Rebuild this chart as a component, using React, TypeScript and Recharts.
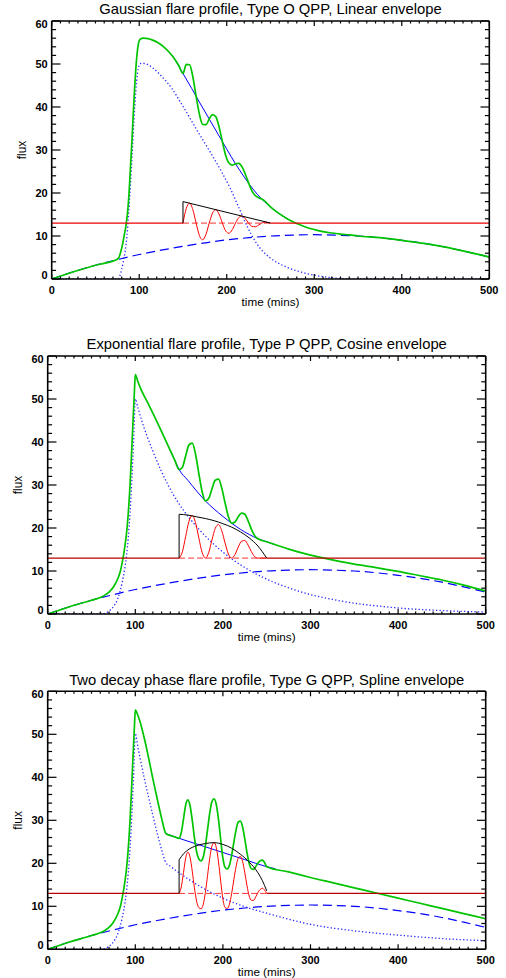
import React from "react";
import { LineChart, Line, XAxis, YAxis } from "recharts";

type Pt = [number, number];

// ---- shared ----
const background: Pt[] = [
  [0, 0], [25, 1.7], [50, 3.2], [75, 4.5], [100, 5.7], [125, 6.7], [150, 7.6], [175, 8.4],
  [200, 9.1], [225, 9.6], [250, 10.0], [275, 10.2], [300, 10.3], [325, 10.2], [350, 10.0],
  [375, 9.6], [400, 9.0], [425, 8.3], [450, 7.4], [475, 6.3], [500, 5.1],
];
const flatBefore: Pt[] = [[0, 13], [150, 13]];
const flatAfter: Pt[] = [[250, 13], [500, 13]];
const qppMean: Pt[] = [[150, 13], [250, 13]];

const X_MAJOR = [0, 100, 200, 300, 400, 500];
const Y_MAJOR = [0, 10, 20, 30, 40, 50, 60];
const X_MINOR_STEP = 10;
const Y_MINOR_STEP = 2;

// ---- panel 1: gaussian / type O / linear ----
const gaussFlare: Pt[] = [
  [0, 0], [76, 0], [78, 0.8], [80, 2.3], [82, 4.2], [84, 6.5], [86, 10], [88, 15.5], [90, 22],
  [92, 29.5], [94, 37], [96, 43.5], [98, 47.8], [100, 49.7], [103, 50.2], [108, 50], [116, 49.0],
  [127.6, 46.7], [137, 44.4], [146.6, 41.3], [156, 38.1], [165.7, 34.7], [175, 31.6], [185, 28.2],
  [195, 24.6], [204, 21.1], [213, 17.0], [223, 12.4], [234, 8.3], [249, 5.0], [268, 2.8],
  [285, 1.6], [300, 0.9], [320, 0.3], [340, 0.05], [360, 0], [500, 0],
];
const gaussDecay: Pt[] = [
  [130, 53.6], [140, 51.3], [150, 47.8], [160, 44.3], [170, 40.7], [180, 37.2], [190, 33.7],
  [200, 30.2], [210, 26.8], [220, 23.7], [230, 20.9], [240, 18.6], [250, 16.75], [260, 15.2], [270, 13.9],
];
const gaussTotal: Pt[] = [
  [0, 0], [25, 1.7], [50, 3.2], [75, 4.6], [77, 5.1], [79, 6.4], [81, 8.1], [83, 10.3], [85, 12.6],
  [86, 14.2], [87, 16.2], [88, 18.8], [89, 22.2], [90, 26], [91, 29.6], [92, 33.5], [93, 37.6],
  [94, 41.6], [95, 45.3], [96, 48.5], [97, 51.2], [98, 53.2], [99, 54.6], [100, 55.4], [102, 55.9],
  [105, 56.0], [110, 55.9], [116, 55.5], [122, 54.9], [128, 54.0], [134, 52.8], [140, 51.3],
  [145, 49.7], [150, 47.8], [153.75, 49.9], [157.5, 49.83], [161.25, 47.04], [165, 42.5],
  [168.75, 38.33], [172.5, 35.93], [176.25, 35.89], [180, 37.2], [183.75, 38.24], [187.5, 37.73],
  [191.25, 35.38], [195, 31.95], [198.75, 28.79], [202.5, 26.98], [206.25, 26.5], [210, 26.8],
  [213.75, 26.88], [217.5, 26.08], [221.25, 24.37], [225, 22.3], [228.75, 20.5], [232.5, 19.43],
  [236.25, 18.91], [240, 18.6], [243.75, 18.07], [247.5, 17.28], [250, 16.75], [260, 15.2],
  [270, 13.9], [280, 12.9], [290, 12.1], [300, 11.5], [310, 11.0], [320, 10.7], [330, 10.45],
  [340, 10.25], [350, 10.0], [375, 9.6], [400, 9.0], [425, 8.3], [450, 7.4], [475, 6.3], [500, 5.1],
];
const gaussQpp: Pt[] = [
  [150, 13], [153.75, 16.4], [157.5, 17.63], [161.25, 16.14], [165, 13], [168.75, 10.13],
  [172.5, 9.13], [176.25, 10.39], [180, 13], [183.75, 15.34], [187.5, 16.13], [191.25, 15.08],
  [195, 13], [198.75, 11.19], [202.5, 10.63], [206.25, 11.45], [210, 13], [213.75, 14.28],
  [217.5, 14.63], [221.25, 14.02], [225, 13], [228.75, 12.25], [232.5, 12.13], [236.25, 12.51],
  [240, 13], [243.75, 13.22], [247.5, 13.13], [250, 13],
];
const gaussEnvelope: Pt[] = [[150, 13], [150, 18], [250, 13]];

// ---- panel 2: exponential / type P / cosine ----
const expFlare: Pt[] = [
  [0, 0], [62, 0], [66, 0.2], [70, 0.7], [75, 1.7], [80, 3.6], [85, 7.3], [88, 10.6], [90, 13.6],
  [92, 17.8], [94, 23.5], [96, 31], [98, 40], [100, 50], [103, 48.0], [107, 45.2], [113, 41.6],
  [120, 37.9], [130, 33.1], [143, 27.9], [150, 25.6], [175, 19.2], [200, 14.4], [225, 10.8],
  [250, 8.1], [275, 6.1], [300, 4.5], [325, 3.4], [350, 2.5], [375, 1.9], [400, 1.4], [450, 0.8], [500, 0.45],
];
const expDecay: Pt[] = [
  [140, 38.0], [145, 35.8], [150, 33.6], [160, 31.1], [170, 28.6], [180, 26.3], [190, 24.4],
  [200, 22.7], [210, 21.1], [220, 19.7], [230, 18.5], [240, 17.5], [250, 16.8], [260, 16.1],
];
const expTotal: Pt[] = [
  [0, 0], [25, 1.7], [50, 3.2], [62, 4.0], [66, 4.5], [70, 5.1], [75, 6.3], [80, 8.2], [83, 10.0],
  [85, 11.9], [87, 14.2], [88, 15.6], [90, 18.8], [92, 23.5], [94, 30], [96, 38.5], [98, 47.5],
  [99, 51.8], [100, 55.7], [103, 54.0], [107, 52.0], [113, 49.6], [120, 46.7], [128, 43.3],
  [135, 40.2], [140, 38.0], [145, 35.8], [150, 33.6], [153.75, 34.14], [157.5, 36.78],
  [161.25, 39.33], [165, 39.75], [168.75, 37.15], [172.5, 32.7], [176.25, 28.5], [180, 26.3],
  [183.75, 26.85], [187.5, 29.08], [191.25, 31.11], [195, 31.35], [198.75, 29.23], [202.5, 25.8],
  [206.25, 22.66], [210, 21.1], [213.75, 21.4], [217.5, 22.6], [221.25, 23.48], [225, 23.2],
  [228.75, 21.68], [232.5, 19.75], [236.25, 18.23], [240, 17.5], [250, 16.8], [275, 15.1],
  [300, 13.7], [325, 12.6], [350, 11.6], [375, 10.8], [400, 9.9], [425, 8.9], [450, 7.9],
  [475, 6.7], [500, 5.3],
];
const expQpp: Pt[] = [
  [150, 13], [153.75, 14.48], [157.5, 18.05], [161.25, 21.54], [165, 22.9], [168.75, 21.24],
  [172.5, 17.7], [176.25, 14.34], [180, 13], [183.75, 14.26], [187.5, 17.2], [191.25, 19.92],
  [195, 20.8], [198.75, 19.32], [202.5, 16.5], [206.25, 13.96], [210, 13], [213.75, 13.82],
  [217.5, 15.55], [221.25, 16.93], [225, 17.1], [228.75, 16.03], [232.5, 14.5], [236.25, 13.35],
  [240, 13], [250, 13],
];
const expEnvelope: Pt[] = [
  [150, 13], [150, 23.2], [160, 23.0], [170, 22.6], [180, 22.2], [190, 21.7], [200, 21.0],
  [210, 20.2], [220, 19.1], [230, 17.7], [240, 15.8], [250, 13.0],
];

// ---- panel 3: two decay phase / type G / spline ----
const twoFlare: Pt[] = [
  [0, 0], [62, 0], [66, 0.2], [70, 0.7], [75, 1.7], [80, 3.6], [85, 7.3], [88, 10.6], [90, 13.6],
  [92, 17.8], [94, 23.5], [96, 31], [98, 40], [100, 50.2], [103, 47.0], [106, 43.9], [110, 40.0],
  [115, 35.5], [120, 31.2], [125, 27.0], [130, 23.2], [135, 20.1], [140, 19.3], [150, 17.8],
  [175, 14.5], [200, 11.9], [225, 9.9], [250, 8.4], [275, 7.0], [300, 5.8], [350, 4.3],
  [400, 3.3], [450, 2.5], [500, 2.0],
];
const twoDecay: Pt[] = [
  [135, 26.9], [150, 25.81], [175, 24.16], [200, 22.51], [225, 20.86], [250, 19.21], [260, 18.73],
];
const twoTotal: Pt[] = [
  [0, 0], [25, 1.7], [50, 3.2], [62, 4.0], [66, 4.5], [70, 5.1], [75, 6.3], [80, 8.2], [83, 10.0],
  [85, 11.9], [87, 14.2], [88, 15.6], [90, 18.8], [92, 23.5], [94, 30], [96, 38.5], [98, 47.5],
  [99, 51.8], [100, 55.7], [102, 54.9], [105, 53.2], [110, 49.3], [115, 44.7], [120, 39.7],
  [125, 35.0], [130, 30.5], [135, 26.9], [140, 26.47], [145, 26.14], [150, 25.81], [152.5, 27.15],
  [155, 30.28], [157.5, 33.52], [160, 34.75], [162.5, 33.39], [165, 30.02], [167.5, 25.96],
  [170, 22.69], [172.5, 21.03], [175, 20.56], [177.5, 21.4], [180, 24.03], [182.5, 27.87],
  [185, 31.7], [187.5, 34.34], [190, 34.97], [192.5, 33.61], [195, 30.14], [197.5, 25.48],
  [200, 21.21], [202.5, 19.05], [205, 18.68], [207.5, 19.52], [210, 21.85], [212.5, 24.89],
  [215, 27.72], [217.5, 29.56], [220, 29.79], [222.5, 28.43], [225, 25.66], [227.5, 22.5],
  [230, 19.93], [232.5, 18.77], [235, 18.6], [237.5, 19.24], [240, 20.07], [242.5, 20.61],
  [245, 20.74], [247.5, 20.18], [250, 19.21], [275, 18.0], [300, 16.7], [325, 15.5], [350, 14.3],
  [375, 13.1], [400, 11.9], [425, 10.7], [450, 9.5], [475, 8.3], [500, 7.1],
];
const twoQpp: Pt[] = [
  [150, 13], [152.5, 14.5], [155, 17.8], [157.5, 21.2], [160, 22.6], [162.5, 21.4], [165, 18.2],
  [167.5, 14.3], [170, 11.2], [172.5, 9.7], [175, 9.4], [177.5, 10.4], [180, 13.2], [182.5, 17.2],
  [185, 21.2], [187.5, 24.0], [190, 24.8], [192.5, 23.6], [195, 20.3], [197.5, 15.8], [200, 11.7],
  [202.5, 9.7], [205, 9.5], [207.5, 10.5], [210, 13.0], [212.5, 16.2], [215, 19.2], [217.5, 21.2],
  [220, 21.6], [222.5, 20.4], [225, 17.8], [227.5, 14.8], [230, 12.4], [232.5, 11.4], [235, 11.4],
  [237.5, 12.2], [240, 13.2], [242.5, 13.9], [245, 14.2], [247.5, 13.8], [250, 13.0],
];
const twoEnvelope: Pt[] = [
  [150, 13], [150, 20.8], [155, 22.2], [160, 23.1], [170, 24.1], [180, 24.6], [190, 24.8],
  [200, 24.4], [210, 23.5], [220, 22.1], [230, 20.3], [240, 17.8], [245, 16.0], [250, 13.6],
];

const rows = (pts: Pt[]) => pts.map(([t, v]) => ({ t, v }));
const steps = (max: number, step: number) => {
  const out: number[] = [];
  for (let v = 0; v <= max; v += step) out.push(v);
  return out;
};
const xTicks = steps(500, X_MINOR_STEP);
const yTicks = steps(60, Y_MINOR_STEP);

const FONT = "'Liberation Sans', Arial, Helvetica, sans-serif";

function Tick(props: any) {
  const { x, y, payload, side } = props;
  const v = payload.value;
  if (side === "bottom" || side === "top") {
    const major = X_MAJOR.includes(v);
    const len = major ? 5 : 2.5;
    const dir = side === "bottom" ? -1 : 1;
    return (
      <g>
        <line x1={x} x2={x} y1={y} y2={y + dir * len} stroke="#000" strokeWidth={1.2} />
        {side === "bottom" && major && (
          <text x={x} y={y + 15} textAnchor="middle" fontSize={11} fontWeight="bold" fontFamily={FONT} fill="#000">
            {v}
          </text>
        )}
      </g>
    );
  }
  const major = Y_MAJOR.includes(v);
  const len = major ? 8.8 : 4.4;
  const dir = side === "left" ? 1 : -1;
  const dy = v === 0 ? -4 : v === 60 ? 3 : 0;
  return (
    <g>
      <line x1={x} x2={x + dir * len} y1={y} y2={y} stroke="#000" strokeWidth={1.2} />
      {side === "left" && major && (
        <text x={x - 4} y={y + 4 + dy} textAnchor="end" fontSize={11} fontWeight="bold" fontFamily={FONT} fill="#000">
          {v}
        </text>
      )}
    </g>
  );
}

type Panel = {
  title: string;
  top: number;
  plotTop: number;
  plotBottom: number;
  plotLeft: number;
  plotRight: number;
  flare: Pt[];
  decay: Pt[];
  total: Pt[];
  qpp: Pt[];
  envelope: Pt[];
  flatColor: string;
  envCurve: "linear" | "monotone";
};

const panels: Panel[] = [
  {
    title: "Gaussian flare profile, Type O QPP, Linear envelope",
    top: 0, plotTop: 21, plotBottom: 279, plotLeft: 51.7, plotRight: 489.3,
    flare: gaussFlare, decay: gaussDecay, total: gaussTotal, qpp: gaussQpp, envelope: gaussEnvelope,
    flatColor: "#ee0000", envCurve: "linear",
  },
  {
    title: "Exponential flare profile, Type P QPP, Cosine envelope",
    top: 320, plotTop: 356, plotBottom: 614, plotLeft: 47.7, plotRight: 485.7,
    flare: expFlare, decay: expDecay, total: expTotal, qpp: expQpp, envelope: expEnvelope,
    flatColor: "#b80000", envCurve: "monotone",
  },
  {
    title: "Two decay phase flare profile, Type G QPP, Spline envelope",
    top: 645, plotTop: 691.3, plotBottom: 949.3, plotLeft: 47.7, plotRight: 485.7,
    flare: twoFlare, decay: twoDecay, total: twoTotal, qpp: twoQpp, envelope: twoEnvelope,
    flatColor: "#b80000", envCurve: "monotone",
  },
];

const common = { xAxisId: "b", yAxisId: "l", dataKey: "v", dot: false, isAnimationActive: false, activeDot: false } as const;

function FlarePanel({ p }: { p: Panel }) {
  const height = p.plotBottom - p.top + 30;
  const axisLine = { stroke: "#000", strokeWidth: 1.6 };
  return (
    <div style={{ position: "absolute", left: 0, top: p.top, width: 506, height }}>
      <LineChart
        width={506}
        height={height}
        margin={{ top: p.plotTop - p.top - 1, right: 506 - p.plotRight - 1, bottom: 0, left: 0 }}
      >
        <XAxis xAxisId="b" type="number" dataKey="t" domain={[0, 500]} allowDataOverflow ticks={xTicks}
          interval={0} tickSize={0} tickMargin={0} tickLine={false} axisLine={axisLine} height={30}
          tick={(t: any) => <Tick {...t} side="bottom" />} />
        <XAxis xAxisId="top" orientation="top" type="number" dataKey="t" domain={[0, 500]} allowDataOverflow
          ticks={xTicks} interval={0} tickSize={0} tickMargin={0} tickLine={false} axisLine={axisLine} height={1}
          tick={(t: any) => <Tick {...t} side="top" />} />
        <YAxis yAxisId="l" type="number" domain={[0, 60]} allowDataOverflow ticks={yTicks} interval={0}
          tickSize={0} tickMargin={0} tickLine={false} axisLine={axisLine} width={p.plotLeft}
          tick={(t: any) => <Tick {...t} side="left" />} />
        <YAxis yAxisId="r" orientation="right" type="number" domain={[0, 60]} allowDataOverflow ticks={yTicks}
          interval={0} tickSize={0} tickMargin={0} tickLine={false} axisLine={axisLine} width={1}
          tick={(t: any) => <Tick {...t} side="right" />} />

        {/* invisible series so the frame axes (top/right) have data bound to them */}
        <Line xAxisId="top" yAxisId="r" dataKey="v" data={rows(background)} stroke="none" dot={false}
          activeDot={false} isAnimationActive={false} />

        <Line {...common} data={rows(background)} type="monotone" stroke="#0000ff" strokeWidth={1.2} strokeDasharray="9 5" />
        <Line {...common} data={rows(p.flare)} type="monotone" stroke="#2a2aff" strokeWidth={1.3} strokeDasharray="1.3 2.2" />
        <Line {...common} data={rows(p.decay)} type="monotone" stroke="#0000ff" strokeWidth={1} />
        <Line {...common} data={rows(p.total)} type="monotone" stroke="#00c400" strokeWidth={1.7} />
        <Line {...common} data={rows(flatBefore)} type="linear" stroke={p.flatColor} strokeWidth={1.4} />
        <Line {...common} data={rows(flatAfter)} type="linear" stroke={p.flatColor} strokeWidth={1.4} />
        <Line {...common} data={rows(qppMean)} type="linear" stroke="#ff3030" strokeWidth={1} strokeDasharray="6 3" />
        <Line {...common} data={rows(p.qpp)} type="monotone" stroke="#ff0000" strokeWidth={1} />
        <Line {...common} data={rows(p.envelope.slice(0, 2))} type="linear" stroke="#000" strokeWidth={1} />
        <Line {...common} data={rows(p.envelope.slice(1))} type={p.envCurve} stroke="#000" strokeWidth={1} />
      </LineChart>
    </div>
  );
}

export default function App() {
  return (
    <div style={{ position: "absolute", left: 0, top: 0, width: 506, height: 978, background: "#fff", overflow: "hidden" }}>
      {panels.map((p) => (
        <FlarePanel key={p.title} p={p} />
      ))}
      <svg width={506} height={978} style={{ position: "absolute", left: 0, top: 0, pointerEvents: "none" }}>
        {panels.map((p) => {
          const cx = (p.plotLeft + p.plotRight) / 2;
          const cy = (p.plotTop + p.plotBottom) / 2;
          return (
            <g key={p.title} fontFamily={FONT} fill="#000">
              <text x={cx} y={p.plotTop - 6.6} textAnchor="middle" fontSize={14.8}>{p.title}</text>
              <text x={cx} y={p.plotBottom + 27} textAnchor="middle" fontSize={11.7}>time (mins)</text>
              <text x={p.plotLeft - 25.5} y={cy} textAnchor="middle" fontSize={12}
                transform={`rotate(-90 ${p.plotLeft - 25.5} ${cy})`}>flux</text>
            </g>
          );
        })}
      </svg>
    </div>
  );
}
